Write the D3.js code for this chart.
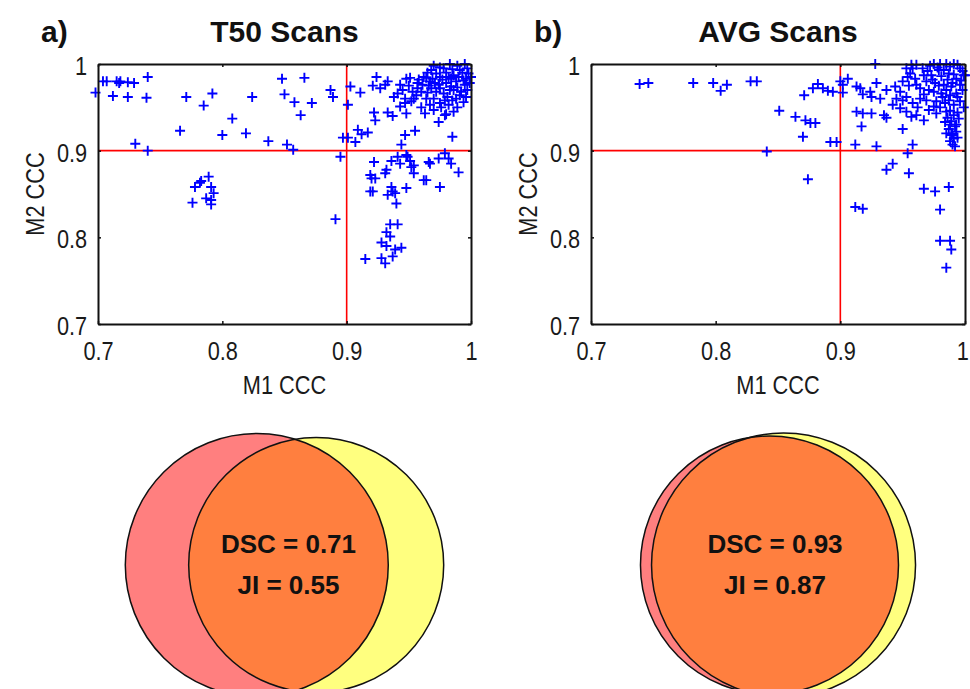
<!DOCTYPE html>
<html>
<head>
<meta charset="utf-8">
<script src="https://cdn.jsdelivr.net/npm/d3@7"></script>
<style>
  html, body { margin: 0; padding: 0; background: #fff; }
  svg { display: block; }
  .tick text, .axis-label { font-family: "Liberation Sans", Arial, sans-serif; font-size: 25px; fill: #1a1a1a; }
  .title { font-family: "Liberation Sans", Arial, sans-serif; font-weight: bold; font-size: 30px; fill: #111; }
  .venn-text { font-family: "Liberation Sans", Arial, sans-serif; font-weight: bold; font-size: 26px; fill: #111; }
</style>
</head>
<body>
<script>
// Concordance (CCC) of model 1 vs model 2 per structure
const t50Points = [
  [0.698,0.967],[0.704,0.980],[0.707,0.980],[0.715,0.980],[0.717,0.978],[0.718,0.980],[0.724,0.979],[0.729,0.978],[0.740,0.985],
  [0.712,0.963],[0.724,0.962],[0.739,0.961],[0.771,0.962],[0.792,0.966],[0.785,0.952],[0.824,0.962],[0.808,0.937],[0.766,0.923],
  [0.800,0.918],[0.819,0.920],[0.837,0.911],[0.730,0.908],[0.740,0.900],[0.848,0.983],[0.850,0.965],[0.852,0.907],
  [0.789,0.870],[0.782,0.863],[0.778,0.858],[0.791,0.858],[0.793,0.851],[0.787,0.845],[0.791,0.843],[0.776,0.840],[0.791,0.838],[0.783,0.865],
  [0.866,0.984],[0.858,0.956],[0.863,0.941],[0.872,0.955],[0.887,0.970],[0.889,0.962],[0.903,0.974],[0.911,0.967],[0.901,0.953],
  [0.924,0.985],[0.921,0.975],[0.927,0.972],[0.931,0.976],[0.933,0.980],[0.943,0.976],[0.948,0.983],[0.951,0.984],[0.958,0.982],[0.964,0.984],
  [0.922,0.944],[0.923,0.935],[0.933,0.944],[0.937,0.940],[0.948,0.943],[0.943,0.951],[0.947,0.955],[0.954,0.960],[0.974,0.933],[0.980,0.942],[0.985,0.916],
  [0.909,0.924],[0.912,0.919],[0.917,0.921],[0.897,0.915],[0.901,0.915],[0.907,0.910],[0.857,0.901],[0.895,0.893],[0.947,0.918],[0.955,0.923],[0.944,0.907],
  [0.922,0.887],[0.936,0.888],[0.941,0.893],[0.948,0.895],[0.951,0.888],[0.954,0.883],[0.966,0.887],[0.974,0.891],[0.979,0.897],[0.982,0.891],
  [0.984,0.885],[0.990,0.875],[0.919,0.872],[0.923,0.868],[0.932,0.878],[0.954,0.874],[0.964,0.866],[0.975,0.858],[0.936,0.858],[0.948,0.857],
  [0.919,0.853],[0.937,0.853],[0.943,0.885],[0.949,0.893],[0.952,0.881],[0.967,0.885],[0.931,0.874],[0.920,0.868],[0.962,0.866],[0.933,0.849],
  [0.939,0.851],[0.940,0.839],[0.921,0.853],[0.891,0.821],
  [0.935,0.815],[0.941,0.815],[0.932,0.806],[0.935,0.801],[0.928,0.794],[0.932,0.790],[0.939,0.786],[0.944,0.788],[0.937,0.778],[0.915,0.775],[0.928,0.776],[0.931,0.770],
  [0.968,0.993],[0.972,0.989],[0.978,0.995],[0.983,1.000],[0.995,1.000],[0.986,0.987],[0.991,0.993],[0.998,0.989],[0.967,0.980],[0.974,0.976],
  [0.980,0.978],[0.988,0.980],[0.995,0.976],[0.972,0.968],[0.978,0.966],[0.986,0.970],[0.992,0.968],[0.956,0.964],[0.960,0.968],[0.964,0.960],
  [0.970,0.960],[0.979,0.958],[0.988,0.960],[0.994,0.956],[0.952,0.957],[0.947,0.960],[0.982,0.953],[0.991,0.964],[0.996,0.983],[1.000,0.985],
  [0.982,0.985],[0.975,0.985],[0.968,0.972],[0.984,0.974],[0.970,0.947],[0.979,0.941],
  [0.970,0.998],[0.975,0.996],[0.980,0.990],[0.985,0.994],[0.989,0.998],[0.993,0.990],[0.997,0.995],[0.965,0.990],[0.962,0.985],[0.969,0.983],
  [0.977,0.982],[0.984,0.983],[0.990,0.985],[0.994,0.981],[0.999,0.978],[0.966,0.975],[0.971,0.978],[0.983,0.970],[0.989,0.973],[0.997,0.970],
  [0.975,0.972],[0.961,0.976],[0.957,0.972],[0.953,0.968],[0.965,0.967],[0.981,0.962],[0.985,0.958],[0.996,0.962],[0.975,0.955],[0.967,0.953],
  [0.960,0.950],[0.989,0.950],[0.986,0.945],[0.963,0.943],[0.941,0.966],[0.945,0.970],[0.938,0.962],[0.950,0.975],[0.957,0.978],[0.976,0.950]
];

const avgPoints = [
  [0.739,0.977],[0.746,0.978],[0.782,0.978],[0.798,0.978],[0.809,0.976],[0.804,0.969],[0.828,0.980],[0.833,0.980],[0.851,0.946],[0.841,0.899],
  [0.928,1.000],[0.882,0.977],[0.878,0.972],[0.886,0.972],[0.890,0.969],[0.894,0.968],[0.900,0.980],[0.902,0.976],[0.906,0.983],[0.902,0.967],
  [0.871,0.964],[0.864,0.939],[0.872,0.935],[0.876,0.932],[0.880,0.932],[0.870,0.916],[0.892,0.910],[0.897,0.910],[0.912,0.907],[0.929,0.905],
  [0.958,0.907],[0.954,0.897],[0.942,0.885],[0.937,0.878],[0.955,0.874],[0.874,0.867],[0.967,0.856],[0.976,0.853],[0.987,0.858],
  [0.913,0.974],[0.916,0.972],[0.924,0.968],[0.929,0.978],[0.925,0.962],[0.932,0.960],[0.918,0.965],[0.937,0.970],[0.944,0.974],[0.950,0.980],
  [0.954,0.985],[0.953,0.962],[0.950,0.958],[0.913,0.945],[0.918,0.943],[0.925,0.943],[0.917,0.928],[0.935,0.941],[0.937,0.938],[0.942,0.953],
  [0.948,0.949],[0.953,0.945],[0.957,0.939],[0.961,0.941],[0.967,0.935],[0.950,0.925],[0.964,0.972],[0.969,0.958],[0.958,0.995],[0.957,0.999],
  [0.984,0.933],[0.985,0.920],[0.991,0.914],[0.990,0.907],[0.993,0.922],[0.912,0.835],[0.918,0.833],[0.980,0.832],[0.980,0.796],[0.988,0.796],
  [0.989,0.786],[0.985,0.765],[0.992,0.905],
  [0.975,1.000],[0.980,1.000],[0.985,1.000],[0.991,1.000],[0.996,0.995],[0.999,0.987],[0.993,0.983],[0.987,0.989],[0.979,0.993],[0.973,0.987],
  [0.969,0.980],[0.976,0.978],[0.983,0.976],[0.989,0.974],[0.996,0.976],[0.975,0.968],[0.981,0.966],[0.988,0.964],[0.993,0.966],[0.977,0.957],
  [0.984,0.955],[0.991,0.953],[0.996,0.957],[0.985,0.945],[0.991,0.941],[0.995,0.937],[0.988,0.930],[0.992,0.928],[0.989,0.918],[0.967,0.987],
  [0.961,0.976],[0.964,0.960],[0.971,0.947],[0.977,0.943],[0.956,0.989],[0.953,0.995],[0.961,0.999],[1.000,0.987],
  [0.972,0.998],[0.978,0.996],[0.983,0.993],[0.988,0.997],[0.994,0.999],[0.998,0.992],[0.970,0.992],[0.966,0.995],[0.981,0.986],[0.986,0.982],
  [0.991,0.988],[0.997,0.981],[0.974,0.982],[0.979,0.975],[0.985,0.970],[0.990,0.978],[0.998,0.970],[0.971,0.970],[0.967,0.965],[0.982,0.962],
  [0.987,0.958],[0.994,0.962],[0.999,0.950],[0.980,0.950],[0.975,0.951],[0.988,0.946],[0.994,0.944],[0.986,0.938],[0.989,0.934],[0.993,0.930],
  [0.987,0.925],[0.990,0.920],[0.994,0.915],[0.988,0.911],[0.960,0.983],[0.955,0.975],[0.948,0.968],[0.945,0.960],[0.962,0.950],[0.958,0.955]
];

const axisTicks = [0.7, 0.8, 0.9, 1];
const threshold = 0.9;

const panelTitles = ["T50 Scans", "AVG Scans"];
const panelLetters = ["a)", "b)"];
const xAxisLabel = "M1 CCC";
const yAxisLabel = "M2 CCC";

// Overlap of the two segmentations: Dice and Jaccard, with relative set areas
const diceValues = [0.71, 0.93];
const jaccardValues = [0.55, 0.87];
const areaM1 = [1.023, 0.985];
const areaM2 = [0.962, 1.031];

const W = 970, H = 689;
const svg = d3.select("body").append("svg").attr("width", W).attr("height", H);

const panels = [
  { points: t50Points, x0: 98, x1: 471 },
  { points: avgPoints, x0: 591, x1: 965 }
];
const plotTop = 64, plotBottom = 324;
const textScale = 0.87;

panels.forEach((p, i) => {
  const x = d3.scaleLinear().domain([0.7, 1]).range([p.x0, p.x1]);
  const y = d3.scaleLinear().domain([0.7, 1]).range([plotBottom, plotTop]);
  const g = svg.append("g");

  // clip for the threshold lines
  const clipId = "plot-clip-" + i;
  svg.append("clipPath").attr("id", clipId)
    .append("rect").attr("x", p.x0).attr("y", plotTop)
    .attr("width", p.x1 - p.x0).attr("height", plotBottom - plotTop);

  // threshold lines
  g.append("line").attr("clip-path", `url(#${clipId})`)
    .attr("x1", x(threshold)).attr("x2", x(threshold))
    .attr("y1", plotTop).attr("y2", plotBottom)
    .attr("stroke", "#ff0000").attr("stroke-width", 1.6);
  g.append("line").attr("clip-path", `url(#${clipId})`)
    .attr("x1", p.x0).attr("x2", p.x1)
    .attr("y1", y(threshold)).attr("y2", y(threshold))
    .attr("stroke", "#ff0000").attr("stroke-width", 1.6);

  // plus markers
  const arm = 5;
  g.append("g").selectAll("path").data(p.points).join("path")
    .attr("d", d => {
      const cx = x(d[0]), cy = y(d[1]);
      return `M${cx - arm},${cy}H${cx + arm}M${cx},${cy - arm}V${cy + arm}`;
    })
    .attr("fill", "none").attr("stroke", "#0000ff").attr("stroke-width", 1.9);

  // axes (ticks pointing inward, box on all sides)
  const fmt = d => (d === 1 ? "1" : d3.format(".1f")(d));
  const xAxis = g.append("g").attr("transform", `translate(0,${plotBottom})`)
    .call(d3.axisBottom(x).tickValues(axisTicks).tickFormat(fmt).tickSizeInner(-3).tickSizeOuter(0).tickPadding(18));
  const yAxis = g.append("g").attr("transform", `translate(${p.x0},0)`)
    .call(d3.axisLeft(y).tickValues(axisTicks).tickFormat(fmt).tickSizeInner(-3).tickSizeOuter(0).tickPadding(12.5));
  g.append("g").attr("transform", `translate(0,${plotTop})`)
    .call(d3.axisTop(x).tickValues(axisTicks).tickFormat("").tickSizeInner(-3).tickSizeOuter(0));
  g.append("g").attr("transform", `translate(${p.x1},0)`)
    .call(d3.axisRight(y).tickValues(axisTicks).tickFormat("").tickSizeInner(-3).tickSizeOuter(0));

  g.selectAll(".domain").attr("stroke", "#111").attr("stroke-width", 2);
  g.selectAll(".tick line").attr("stroke", "#111").attr("stroke-width", 1.5);
  xAxis.selectAll(".tick text").attr("transform", `scale(${textScale},1)`);
  // keep the last x label inside the page edge
  xAxis.selectAll(".tick text").filter(d => x(d) + 7 > W).attr("dx", -3);
  yAxis.selectAll(".tick text").attr("transform", `scale(${textScale},1)`).attr("dy", "0.42em");

  // axis labels
  const cx = (p.x0 + p.x1) / 2;
  g.append("text").attr("class", "axis-label")
    .attr("transform", `translate(${cx},${394}) scale(${textScale},1)`)
    .attr("text-anchor", "middle").text(xAxisLabel);
  g.append("text").attr("class", "axis-label")
    .attr("transform", `translate(${p.x0 - 54},${(plotTop + plotBottom) / 2}) rotate(-90) scale(${textScale},1)`)
    .attr("text-anchor", "middle").text(yAxisLabel);

  // titles
  g.append("text").attr("class", "title").attr("x", cx).attr("y", 42)
    .attr("text-anchor", "middle").text(panelTitles[i]);
  g.append("text").attr("class", "title").attr("x", p.x0 - 57).attr("y", 42)
    .text(panelLetters[i]);

  // Venn diagram of the two segmentations
  const rScale = d3.scaleSqrt().domain([0, 1]).range([0, 130]);
  const r1 = rScale(areaM1[i]), r2 = rScale(areaM2[i]);
  const lens = (a, b, d) => {
    if (d >= a + b) return 0;
    if (d <= Math.abs(a - b)) return Math.PI * Math.min(a, b) ** 2;
    const t1 = a * a * Math.acos((d * d + a * a - b * b) / (2 * d * a));
    const t2 = b * b * Math.acos((d * d + b * b - a * a) / (2 * d * b));
    const t3 = 0.5 * Math.sqrt((-d + a + b) * (d + a - b) * (d - a + b) * (d + a + b));
    return t1 + t2 - t3;
  };
  const total = Math.PI * (r1 * r1 + r2 * r2);
  let lo = Math.abs(r1 - r2), hi = r1 + r2;
  for (let k = 0; k < 60; k++) {
    const mid = (lo + hi) / 2;
    const dsc = 2 * lens(r1, r2, mid) / total;
    if (dsc > diceValues[i]) lo = mid; else hi = mid;
  }
  const dist = (lo + hi) / 2;
  const spanLeft = cx - (r1 + dist + r2) / 2;
  const c1 = spanLeft + r1, c2 = c1 + dist;
  const cy = 565;

  const vg = svg.append("g");
  const vClip = "venn-clip-" + i;
  svg.append("clipPath").attr("id", vClip)
    .append("circle").attr("cx", c1).attr("cy", cy).attr("r", r1);
  vg.append("circle").attr("cx", c1).attr("cy", cy).attr("r", r1).attr("fill", "#ff7f7f");
  vg.append("circle").attr("cx", c2).attr("cy", cy).attr("r", r2).attr("fill", "#ffff7f");
  vg.append("circle").attr("cx", c2).attr("cy", cy).attr("r", r2).attr("fill", "#ff7f3f")
    .attr("clip-path", `url(#${vClip})`);
  vg.append("circle").attr("cx", c1).attr("cy", cy).attr("r", r1)
    .attr("fill", "none").attr("stroke", "#111").attr("stroke-width", 1.5);
  vg.append("circle").attr("cx", c2).attr("cy", cy).attr("r", r2)
    .attr("fill", "none").attr("stroke", "#111").attr("stroke-width", 1.5);

  const lensCenter = ((c2 - r2) + (c1 + r1)) / 2;
  vg.append("text").attr("class", "venn-text").attr("x", lensCenter).attr("y", 553)
    .attr("text-anchor", "middle").text(`DSC = ${diceValues[i].toFixed(2)}`);
  vg.append("text").attr("class", "venn-text").attr("x", lensCenter).attr("y", 594)
    .attr("text-anchor", "middle").text(`JI = ${jaccardValues[i].toFixed(2)}`);
});
</script>
</body>
</html>
